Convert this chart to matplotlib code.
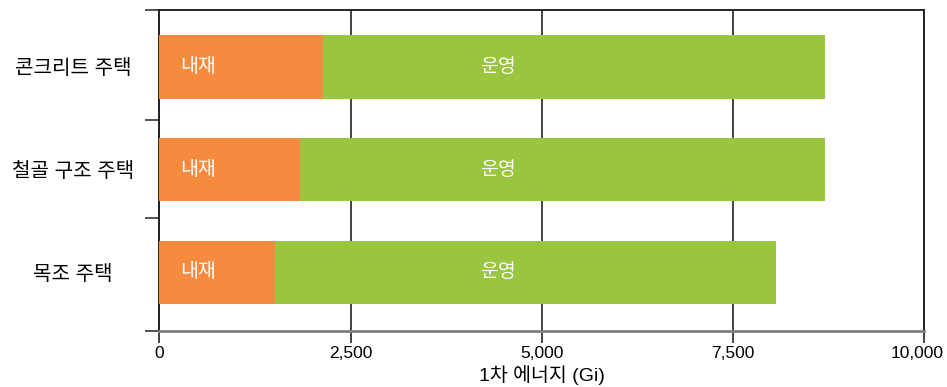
import numpy as np
import matplotlib.pyplot as plt

plt.rcParams['font.family'] = ['Liberation Sans', 'Noto Sans CJK KR']

# Primary energy per house type (Gi)
houses = ['콘크리트 주택', '철골 구조 주택', '목조 주택']
embodied = [2145, 1840, 1512]
total = [8700, 8700, 8060]
operating = [t - e for t, e in zip(total, embodied)]

ticks = [0, 2500, 5000, 7500, 10000]
tick_labels = ['0', '2,500', '5,000', '7,500', '10,000']

orange = '#F68B3F'
green = '#99C53F'

fig = plt.figure(figsize=(9.47, 3.87), dpi=100)
ax = fig.add_axes([0.1682, 0.1447, 0.8078, 0.8282])

y = np.arange(len(houses))
h = 0.615
ax.barh(y, embodied, height=h, color=orange, zorder=3)
ax.barh(y, operating, left=embodied, height=h, color=green, zorder=3)

# segment labels
for yi in y:
    ax.text(270, yi, '내재', color='white', fontsize=14, va='center', ha='left', zorder=4)
    ax.text(4430, yi, '운영', color='white', fontsize=14, va='center', ha='center', zorder=4)

ax.set_xlim(0, 10000)
ax.set_ylim(2.57, -0.55)

tick_len, tick_pad = 8.5, 2.5
ax.set_xticks(ticks)
ax.set_xticklabels(tick_labels[:-1] + [''], fontsize=12.5)
# last label nudged left so it stays inside the figure
ax.annotate(tick_labels[-1], xy=(ticks[-1], 0), xycoords=('data', 'axes fraction'),
            xytext=(-5, -(tick_len + tick_pad)), textcoords='offset points',
            ha='center', va='top', fontsize=12.5)
ax.set_xlabel('1차 에너지 (Gi)', fontsize=14, labelpad=3)

ax.set_yticks(y)
ax.set_yticklabels(houses, fontsize=14.5)
for lab in ax.get_yticklabels():
    lab.set_ha('center')
ax.tick_params(axis='y', which='major', length=0, pad=62)
ax.set_yticks([-0.55, 0.52, 1.47, 2.57], minor=True)
ax.tick_params(axis='y', which='minor', length=10, width=1.2, color='#333333')
ax.tick_params(axis='x', length=tick_len, width=1.2, color='#222222', pad=tick_pad)

ax.grid(axis='x', color='#444444', linewidth=1.4, zorder=1)

for side in ['left', 'top', 'right']:
    ax.spines[side].set_color('#222222')
    ax.spines[side].set_linewidth(1.4)
ax.spines['bottom'].set_color('#808080')
ax.spines['bottom'].set_linewidth(2)

fig.savefig('out.png', dpi=100)
